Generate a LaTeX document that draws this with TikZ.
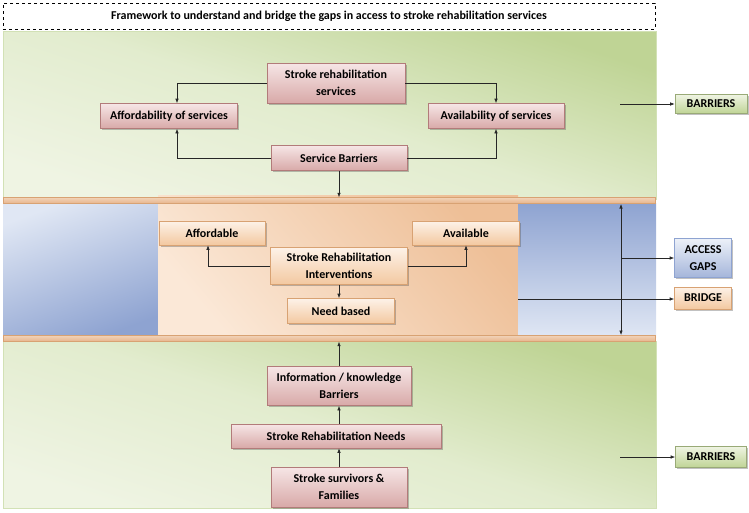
\documentclass[tikz,border=0pt]{standalone}
\usepackage{fontspec}
\setmainfont{Carlito}
\usetikzlibrary{arrows.meta,shadows}
\definecolor{grnL}{HTML}{EFF4E3}
\definecolor{grnM}{HTML}{E2ECCE}
\definecolor{grnD}{HTML}{BFD495}
\definecolor{pinkT}{HTML}{F6E6E6}
\definecolor{pinkB}{HTML}{D8A9A8}
\definecolor{pinkE}{HTML}{B27B7A}
\definecolor{orgT}{HTML}{FDF2E8}
\definecolor{orgB}{HTML}{F3C8A0}
\definecolor{orgE}{HTML}{D8A273}
\definecolor{bluL}{HTML}{E0E7F4}
\definecolor{bluD}{HTML}{8EA3D1}
\definecolor{bandO}{HTML}{E8B48A}
\definecolor{bandOL}{HTML}{FBE8D7}
\definecolor{bandOD}{HTML}{EEBF97}
\tikzset{
  base/.style={font=\bfseries\fontsize{12}{16.5}\selectfont, align=center, inner sep=0pt, line width=0.6pt,
     drop shadow={shadow xshift=1.5pt, shadow yshift=-1.5pt, opacity=0.35, fill=black!70}},
  pinkbox/.style={base, draw=pinkE, top color=pinkT, bottom color=pinkB},
  orgbox/.style={base, draw=orgE, top color=orgT, bottom color=orgB},
  grnbox/.style={base, draw=grnD!80!black, top color=grnL, bottom color=grnD},
  blubox/.style={base, draw=bluD, top color=bluL!60!white, bottom color=bluD!80!white},
  strip/.style={draw=orgE, line width=0.4pt, top color=bandO!60!white, bottom color=bandO, inner sep=0pt, minimum width=652pt, minimum height=6pt},
  band/.style={top color=grnD, bottom color=grnL, middle color=grnM, shading angle=-18},
  arr/.style={-{Latex[length=4.5pt,width=3.5pt]}, line width=0.6pt, black!85},
  arrtwo/.style={{Latex[length=4.5pt,width=3.5pt]}-{Latex[length=4.5pt,width=3.5pt]}, line width=0.6pt, black!85}
}
\begin{document}
\begin{tikzpicture}[x=1pt,y=-1pt]
\useasboundingbox (0,0) rectangle (749,512);
% title
\node[draw, dashed, line width=0.6pt, fill=white, minimum width=652pt, minimum height=26pt, inner sep=0pt,
      font=\bfseries\fontsize{12}{14}\selectfont] (title) at (329,16) {Framework to understand and bridge the gaps in access to stroke rehabilitation services};
% bands
\fill[band] (3,31) rectangle (656,199);
\fill[band] (3,341) rectangle (656,508);
\draw[grnD!70!white, line width=0.5pt] (3,31) rectangle (656,199);
\draw[grnD!70!white, line width=0.5pt] (3,341) rectangle (656,508);
\fill[top color=bluL, bottom color=bluD, shading angle=20] (3,203) rectangle (158,337);
\fill[top color=bandOD, bottom color=bandOL, shading angle=-50] (158,195) rectangle (518,337);
\fill[top color=bluD, bottom color=bluL] (518,203) rectangle (656,337);
\node[strip] (stripT) at (329.5,200.5) {};
\node[strip] (stripB) at (329.5,338.5) {};
\coordinate (orgE) at (518,299);
% top band nodes
\node[pinkbox, minimum width=138pt, minimum height=40pt] (srs) at (336,83) {Stroke rehabilitation\\services};
\node[pinkbox, minimum width=137pt, minimum height=25pt] (aff) at (169,116) {Affordability of services};
\node[pinkbox, minimum width=136pt, minimum height=25pt] (avail) at (496,116) {Availability of services};
\node[pinkbox, minimum width=136pt, minimum height=25pt] (sb) at (339,158) {Service Barriers};
% middle nodes
\node[orgbox, minimum width=106pt, minimum height=24pt] (affd) at (212,233) {Affordable};
\node[orgbox, minimum width=107pt, minimum height=24pt] (avl) at (466,233) {Available};
\node[orgbox, minimum width=137pt, minimum height=37pt] (sri) at (339,266) {Stroke Rehabilitation\\Interventions};
\node[orgbox, minimum width=107pt, minimum height=25pt] (need) at (341,311) {Need based};
% bottom nodes
\node[pinkbox, minimum width=144pt, minimum height=39pt] (info) at (339,386) {Information / knowledge\\Barriers};
\node[pinkbox, minimum width=210pt, minimum height=24pt] (srn) at (336,436) {Stroke Rehabilitation Needs};
\node[pinkbox, minimum width=136pt, minimum height=40pt] (surv) at (339,487) {Stroke survivors \&\\Families};
% right labels
\node[grnbox, minimum width=72pt, minimum height=19pt] (bar1) at (711,104) {BARRIERS};
\node[blubox, minimum width=57pt, minimum height=39pt] (gaps) at (703,258) {ACCESS\\GAPS};
\node[orgbox, minimum width=57pt, minimum height=22pt] (bridge) at (703,298) {BRIDGE};
\node[grnbox, minimum width=71pt, minimum height=21pt] (bar2) at (711,457) {BARRIERS};
\coordinate (b1s) at (620,104);
\coordinate (b2s) at (620,457);
\coordinate (vt) at (621,204);
\coordinate (vb) at (621,335);
% connectors top
\draw[arr] (srs.west) -| ([xshift=8pt]aff.north);
\draw[arr] (srs.east) -| (avail.north);
\draw[arr] (sb.west) -| ([xshift=8pt]aff.south);
\draw[arr] (sb.east) -| (avail.south);
\draw[arr] (sb.south) -- (sb.south |- stripT.north);
% middle
\draw[arr] (sri.west) -| ([xshift=-4pt]affd.south);
\draw[arr] (sri.east) -| (avl.south);
\draw[arr] (sri.south) -- (sri.south |- need.north);
\draw[arrtwo] (vt) -- (vb);
\draw[arr] (gaps.west -| vt) -- (gaps.west);
\draw[arr] (orgE) -- (bridge.west |- orgE);
\draw[arr] (b1s) -- (bar1.west);
\draw[arr] (b2s) -- (bar2.west);
% bottom
\draw[arr] (info.north) -- (info.north |- stripB.south);
\draw[arr] (info.south |- srn.north) -- (info.south);
\draw[arr] (surv.north) -- (surv.north |- srn.south);
\end{tikzpicture}
\end{document}
